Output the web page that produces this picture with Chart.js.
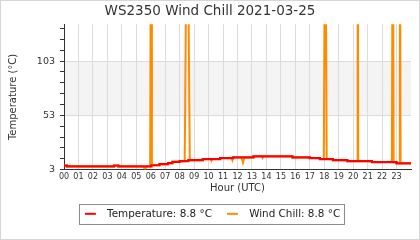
<!DOCTYPE html>
<html>
<head>
<meta charset="utf-8">
<script src="https://cdn.jsdelivr.net/npm/chart.js@4/dist/chart.umd.min.js"></script>
<style>
  html, body { margin: 0; padding: 0; background: #fff; }
  #chart { display: block; }
</style>
</head>
<body>
<canvas id="chart" width="420" height="240"></canvas>
<script>
// Data
const titleText = "WS2350 Wind Chill 2021-03-25";

// temperature: value holds from each hour until the next one
const tempHours = [0, 0.2, 3.46, 3.76, 6.05, 6.6, 7.2, 7.5, 8.0, 8.6, 9.6, 10.8, 11.7, 13.1, 15.8, 17.0, 17.7, 18.6, 19.6, 21.3, 23.0, 24];
const tempValues = [6.7, 5.9, 6.8, 5.9, 7.0, 8.0, 8.9, 10.2, 10.8, 11.7, 12.7, 13.6, 14.2, 15.2, 14.2, 13.6, 12.7, 11.7, 10.8, 9.9, 8.8, 8.8];

// wind chill: same as temperature, with spikes and small dips
const windHours = [0, 0.2, 0.2, 3.46, 3.46, 3.76, 3.76, 5.47, 5.6, 5.72, 5.96, 6.02, 6.08, 6.6, 6.6, 7.2, 7.2, 7.5, 7.5, 8.0, 8.0, 8.35, 8.52, 8.7, 9.6, 9.6, 10.15, 10.2, 10.25, 10.8, 10.8, 11.6, 11.65, 11.7, 11.7, 12.28, 12.38, 12.48, 13.1, 13.1, 13.68, 13.73, 13.78, 15.8, 15.8, 17.0, 17.0, 17.7, 17.7, 17.97, 18.07, 18.17, 18.6, 18.6, 19.6, 19.6, 20.27, 20.31, 20.35, 21.3, 21.3, 22.68, 22.74, 22.8, 23.0, 23.0, 23.18, 23.23, 23.28, 24];
const windValues = [6.7, 6.7, 5.9, 5.9, 6.8, 6.8, 5.9, 5.9, 3.4, 5.9, 5.9, 300, 7.0, 7.0, 8.0, 8.0, 8.9, 8.9, 10.2, 10.2, 10.8, 10.8, 300, 11.7, 11.7, 12.7, 12.7, 11.2, 12.7, 12.7, 13.6, 13.6, 11.6, 13.6, 14.2, 14.2, 9.5, 14.2, 14.2, 15.2, 15.2, 13.8, 15.2, 15.2, 14.2, 14.2, 13.6, 13.6, 12.7, 12.7, 300, 12.7, 12.7, 11.7, 11.7, 10.8, 10.8, 300, 10.8, 10.8, 9.9, 9.9, 300, 9.9, 9.9, 8.8, 8.8, 300, 8.8, 8.8];

const hourTicks = [0, 1, 2, 3, 4, 5, 6, 7, 8, 9, 10, 11, 12, 13, 14, 15, 16, 17, 18, 19, 20, 21, 22, 23];
const yTicks = [3, 13, 23, 33, 43, 53, 63, 73, 83, 93, 103, 113, 123, 133];
const yLabels = [3, 53, 103];
const yMin = 3;
const yMax = 137;
const bandFrom = 53;
const bandTo = 103;

const toPoints = (xs, ys) => xs.map((x, i) => ({ x: x, y: ys[i] }));

// short line marker for the legend (transparent margins around the line)
const makeMarker = (color) => {
  const c = document.createElement("canvas");
  c.width = 22;
  c.height = 4;
  const g = c.getContext("2d");
  g.strokeStyle = color;
  g.lineWidth = 2;
  g.beginPath();
  g.moveTo(5, 2);
  g.lineTo(16, 2);
  g.stroke();
  return c;
};

// background, outer frame and the shaded band
const backdrop = {
  id: "backdrop",
  beforeDraw(chart) {
    const { ctx, chartArea } = chart;
    const y = chart.scales.y;
    ctx.save();
    ctx.fillStyle = "#fff";
    ctx.fillRect(0, 0, chart.width, chart.height);
    ctx.strokeStyle = "#d6d6d6";
    ctx.lineWidth = 1;
    ctx.strokeRect(0.5, 0.5, chart.width - 1, chart.height - 1);
    const top = y.getPixelForValue(bandTo);
    const bottom = y.getPixelForValue(bandFrom);
    ctx.fillStyle = "#f4f4f4";
    ctx.fillRect(chartArea.left, top, chartArea.right - chartArea.left, bottom - top);
    ctx.restore();
  },
};

// frame round the legend
const legendFrame = {
  id: "legendFrame",
  afterDraw(chart) {
    const boxes = chart.legend.legendHitBoxes;
    if (!boxes || !boxes.length) return;
    const first = boxes[0];
    const last = boxes[boxes.length - 1];
    const mid = first.top + first.height / 2;
    const left = Math.round(first.left - 1) + 0.5;
    const right = Math.round(last.left + last.width + 4) + 0.5;
    const ctx = chart.ctx;
    ctx.save();
    ctx.strokeStyle = "#8c8c8c";
    ctx.lineWidth = 1;
    ctx.strokeRect(left, Math.round(mid - 10) + 0.5, right - left, 20);
    ctx.restore();
  },
};

Chart.defaults.font.family = "'DejaVu Sans', sans-serif";
Chart.defaults.color = "#333";

const chart = new Chart(document.querySelector("#chart").getContext("2d"), {
  type: "line",
  data: {
    datasets: [
      {
        label: "Temperature",
        data: toPoints(tempHours, tempValues),
        borderColor: "#ff0000",
        backgroundColor: "#ff0000",
        borderWidth: 2.2,
        stepped: true,
        pointRadius: 0,
        fill: false,
      },
      {
        label: "Wind Chill",
        data: toPoints(windHours, windValues),
        borderColor: "#ff8c00",
        backgroundColor: "#ff8c00",
        borderWidth: 2,
        tension: 0,
        pointRadius: 0,
        fill: false,
      },
    ],
  },
  options: {
    responsive: false,
    animation: false,
    layout: { padding: { left: 0, right: 0, top: 0, bottom: 11 } },
    plugins: {
      title: {
        display: true,
        text: titleText,
        color: "#333",
        font: { size: 13.5, weight: "normal" },
        padding: { top: 3, bottom: 5 },
      },
      legend: {
        position: "bottom",
        labels: {
          usePointStyle: true,
          pointStyleWidth: 22,
          padding: 10,
          color: "#222",
          font: { size: 10.4 },
          generateLabels: (chart) =>
            chart.data.datasets.map((ds, i) => ({
              text: `${ds.label}: ${ds.data[ds.data.length - 1].y.toFixed(1)} °C`,
              pointStyle: makeMarker(ds.borderColor),
              fillStyle: ds.borderColor,
              strokeStyle: ds.borderColor,
              lineWidth: 0,
              fontColor: "#222",
              hidden: false,
              datasetIndex: i,
            })),
        },
      },
      tooltip: { enabled: false },
    },
    scales: {
      x: {
        type: "linear",
        min: 0,
        max: 24,
        afterBuildTicks: (scale) => {
          scale.ticks = hourTicks.map((v) => ({ value: v }));
        },
        afterFit: (scale) => {
          scale.height = 29;
        },
        ticks: {
          autoSkip: false,
          maxRotation: 0,
          padding: 3,
          color: "#333",
          font: { size: 8 },
          callback: (v) => String(v).padStart(2, "0"),
        },
        grid: { color: "#dcdcdc", drawTicks: false },
        border: { color: "#333", width: 1 },
        title: {
          display: true,
          text: "Hour (UTC)",
          color: "#333",
          font: { size: 10 },
          padding: { top: 2, bottom: 4 },
        },
      },
      y: {
        type: "linear",
        min: yMin,
        max: yMax,
        afterBuildTicks: (scale) => {
          scale.ticks = yTicks.map((v) => ({ value: v }));
        },
        afterFit: (scale) => {
          scale.width = 64;
        },
        ticks: {
          autoSkip: false,
          padding: 5,
          color: "#333",
          font: { size: 9.5 },
          callback: (v) => (yLabels.includes(v) ? String(v) : ""),
        },
        grid: {
          tickLength: 4,
          color: (ctx) => (ctx.tick && yLabels.includes(ctx.tick.value) && ctx.tick.value !== yMin ? "#dcdcdc" : "rgba(0,0,0,0)"),
          tickColor: "#333",
        },
        border: { color: "#333", width: 1 },
        title: {
          display: true,
          text: "Temperature (°C)",
          color: "#333",
          font: { size: 10 },
          padding: { top: 7, bottom: 2 },
        },
      },
      // empty strip on the right so the plot ends before the frame
      pad: {
        type: "linear",
        position: "right",
        display: true,
        grid: { display: false },
        border: { display: false },
        ticks: { display: false },
        afterFit: (scale) => {
          scale.width = 9;
        },
      },
    },
  },
  plugins: [backdrop, legendFrame],
});
</script>
</body>
</html>
